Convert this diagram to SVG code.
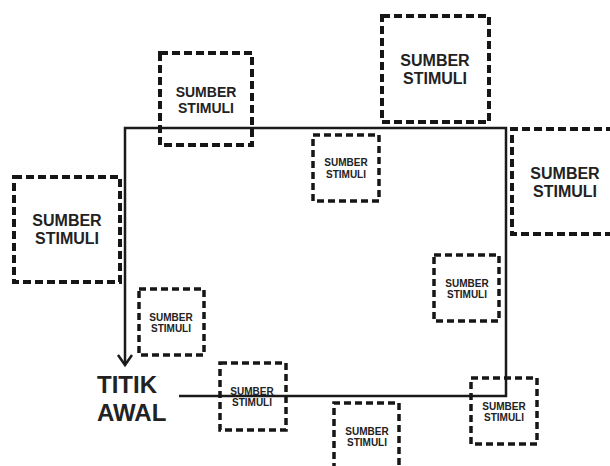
<svg xmlns="http://www.w3.org/2000/svg" width="610" height="466" viewBox="0 0 610 466">
<style>
.bx{fill:none;stroke:#161616;stroke-width:4;stroke-dasharray:8 4}
.sm{fill:none;stroke:#161616;stroke-width:3.5;stroke-dasharray:7 4}
.t{font-family:"Liberation Sans",Arial,sans-serif;font-weight:bold;fill:#222;text-anchor:middle}
.L{font-size:16px}
.M{font-size:14px}
.S{font-size:10px}
.path{fill:none;stroke:#1a1a1a;stroke-width:2.5}
</style>
<rect width="610" height="466" fill="#fff"/>
<g id="connectors">
<polyline class="path" points="179,396 506,396 506,128 125,128 125,364"/>
<polyline class="path" points="118,355 125,365 132,355"/>
</g>
<g id="titik-awal">
<text class="t" x="97" y="393" style="font-size:24px;text-anchor:start">TITIK</text>
<text class="t" x="97" y="421" style="font-size:24px;text-anchor:start">AWAL</text>
</g>
<g id="s1"><rect class="bx" x="160" y="53" width="92" height="92"/>
<text class="t M" x="206" y="97">SUMBER</text><text class="t M" x="206" y="113">STIMULI</text></g>
<g id="s2"><rect class="bx" x="14" y="177" width="106" height="105"/>
<text class="t L" x="67" y="226">SUMBER</text><text class="t L" x="67" y="244">STIMULI</text></g>
<g id="s3"><rect class="bx" x="382" y="16" width="107" height="106"/>
<text class="t L" x="435" y="66">SUMBER</text><text class="t L" x="435" y="84">STIMULI</text></g>
<g id="s4"><rect class="sm" x="313" y="135" width="66" height="66"/>
<text class="t S" x="346" y="166">SUMBER</text><text class="t S" x="346" y="178">STIMULI</text></g>
<g id="s5"><path class="bx" d="M614,129 H512 V234 H614"/>
<text class="t L" x="565" y="179">SUMBER</text><text class="t L" x="565" y="197">STIMULI</text></g>
<g id="s6"><rect class="sm" x="434" y="255" width="65" height="66"/>
<text class="t S" x="467" y="287">SUMBER</text><text class="t S" x="467" y="298">STIMULI</text></g>
<g id="s7"><rect class="sm" x="139" y="289" width="65" height="66"/>
<text class="t S" x="171" y="321">SUMBER</text><text class="t S" x="171" y="332">STIMULI</text></g>
<g id="s8"><rect class="sm" x="220" y="363" width="66" height="67"/>
<text class="t S" x="252" y="395">SUMBER</text><text class="t S" x="252" y="406">STIMULI</text></g>
<g id="s9"><path class="sm" d="M334,470 V403 H399 V470"/>
<text class="t S" x="367" y="435">SUMBER</text><text class="t S" x="367" y="446">STIMULI</text></g>
<g id="s10"><rect class="sm" x="471" y="378" width="66" height="66"/>
<text class="t S" x="504" y="410">SUMBER</text><text class="t S" x="504" y="421">STIMULI</text></g>
</svg>
